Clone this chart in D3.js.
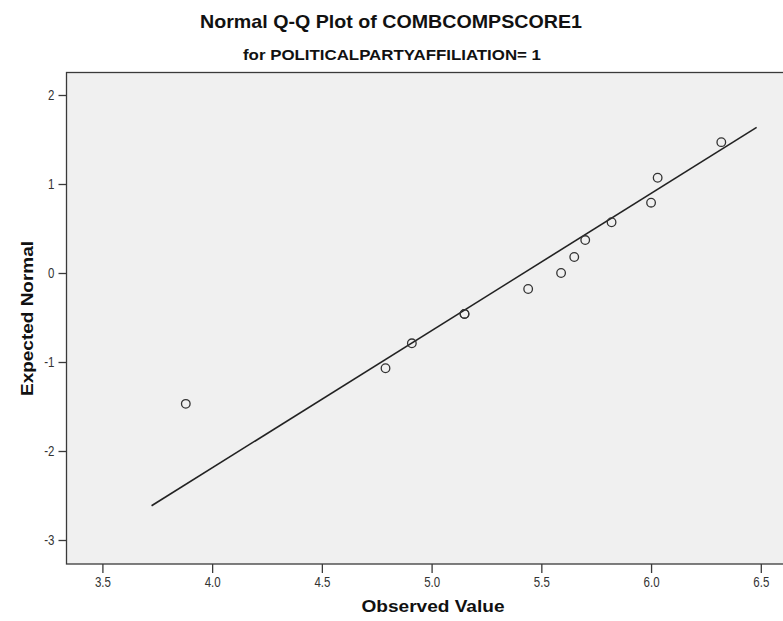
<!DOCTYPE html>
<html>
<head>
<meta charset="utf-8">
<script src="https://cdn.jsdelivr.net/npm/d3@7"></script>
<style>
  body { margin: 0; background: #fff; }
  svg { display: block; }
</style>
</head>
<body>
<script>
// observed values (sorted) and their expected normal scores
const observed = [3.88, 4.79, 4.91, 5.15, 5.15, 5.44, 5.59, 5.65, 5.70, 5.82, 6.00, 6.03, 6.32];
const expected = [-1.47, -1.07, -0.79, -0.46, -0.46, -0.18, 0.00, 0.18, 0.37, 0.57, 0.79, 1.07, 1.47];

// reference line end points
const lineX = [3.724, 6.481];
const lineY = [-2.615, 1.636];

const xTicks = [3.5, 4.0, 4.5, 5.0, 5.5, 6.0, 6.5];
const yTicks = [-3, -2, -1, 0, 1, 2];

const titleText = "Normal Q-Q Plot of COMBCOMPSCORE1";
const subtitleText = "for POLITICALPARTYAFFILIATION= 1";
const xTitle = "Observed Value";
const yTitle = "Expected Normal";

const width = 783;
const height = 621;
const plot = { left: 66.5, top: 72.5, right: 800, bottom: 564 };
const font = "'Liberation Sans', Arial, sans-serif";

// squeeze text horizontally, the way SPSS output looks
const condense = (sel, factor) => {
  sel.each(function () {
    const len = this.getComputedTextLength();
    d3.select(this)
        .attr("textLength", len * factor)
        .attr("lengthAdjust", "spacingAndGlyphs");
  });
};

const svg = d3.select("body")
    .append("svg")
    .attr("width", width)
    .attr("height", height);

// scales
const xScale = d3.scaleLinear()
    .domain([3.5, 6.5])
    .range([102.4, 760.8]);

const yScale = d3.scaleLinear()
    .domain([-3, 2])
    .range([540, 95]);

// plot background + frame
svg.append("rect")
    .attr("x", plot.left)
    .attr("y", plot.top)
    .attr("width", plot.right - plot.left)
    .attr("height", plot.bottom - plot.top)
    .attr("fill", "#f0f0f0")
    .attr("stroke", "#3a3a3a")
    .attr("stroke-width", 1.3);

// X axis
const xAxis = svg.append("g")
    .attr("transform", "translate(0," + plot.bottom + ")")
    .call(d3.axisBottom(xScale)
        .tickValues(xTicks)
        .tickFormat(d3.format(".1f"))
        .tickSize(9)
        .tickPadding(4));
xAxis.select(".domain").remove();
xAxis.selectAll("line").attr("stroke", "#3a3a3a").attr("stroke-width", 1.3);
xAxis.selectAll("text")
    .attr("font-family", font)
    .attr("font-size", 14)
    .attr("fill", "#333")
    .call(condense, 0.82);

// Y axis
const yAxis = svg.append("g")
    .attr("transform", "translate(" + plot.left + ",0)")
    .call(d3.axisLeft(yScale)
        .tickValues(yTicks)
        .tickFormat(function (d) { return String(d); })
        .tickSize(8)
        .tickPadding(4));
yAxis.select(".domain").remove();
yAxis.selectAll("line").attr("stroke", "#3a3a3a").attr("stroke-width", 1.3);
yAxis.selectAll("text")
    .attr("font-family", font)
    .attr("font-size", 14)
    .attr("fill", "#333")
    .call(condense, 0.82);

// reference line
const line = d3.line()
    .x(function (d) { return xScale(d[0]); })
    .y(function (d) { return yScale(d[1]); });

svg.append("path")
    .datum(d3.zip(lineX, lineY))
    .attr("d", line)
    .attr("fill", "none")
    .attr("stroke", "#222")
    .attr("stroke-width", 1.6);

// points
svg.append("g")
    .selectAll("circle")
    .data(d3.zip(observed, expected))
    .enter()
    .append("circle")
    .attr("cx", function (d) { return xScale(d[0]); })
    .attr("cy", function (d) { return yScale(d[1]); })
    .attr("r", 4.3)
    .attr("fill", "none")
    .attr("stroke", "#333")
    .attr("stroke-width", 1.3);

// titles
svg.append("text")
    .attr("x", 391)
    .attr("y", 28)
    .attr("text-anchor", "middle")
    .attr("font-family", font)
    .attr("font-weight", "bold")
    .attr("font-size", 18.5)
    .attr("fill", "#111")
    .attr("textLength", 382)
    .attr("lengthAdjust", "spacingAndGlyphs")
    .text(titleText);

svg.append("text")
    .attr("x", 392)
    .attr("y", 60)
    .attr("text-anchor", "middle")
    .attr("font-family", font)
    .attr("font-weight", "bold")
    .attr("font-size", 15.5)
    .attr("fill", "#111")
    .attr("textLength", 298)
    .attr("lengthAdjust", "spacingAndGlyphs")
    .text(subtitleText);

svg.append("text")
    .attr("x", 433)
    .attr("y", 612)
    .attr("text-anchor", "middle")
    .attr("font-family", font)
    .attr("font-weight", "bold")
    .attr("font-size", 16.5)
    .attr("fill", "#111")
    .attr("textLength", 143)
    .attr("lengthAdjust", "spacingAndGlyphs")
    .text(xTitle);

svg.append("text")
    .attr("transform", "translate(33,318.5) rotate(-90)")
    .attr("text-anchor", "middle")
    .attr("font-family", font)
    .attr("font-weight", "bold")
    .attr("font-size", 16.5)
    .attr("fill", "#111")
    .attr("textLength", 155)
    .attr("lengthAdjust", "spacingAndGlyphs")
    .text(yTitle);
</script>
</body>
</html>
